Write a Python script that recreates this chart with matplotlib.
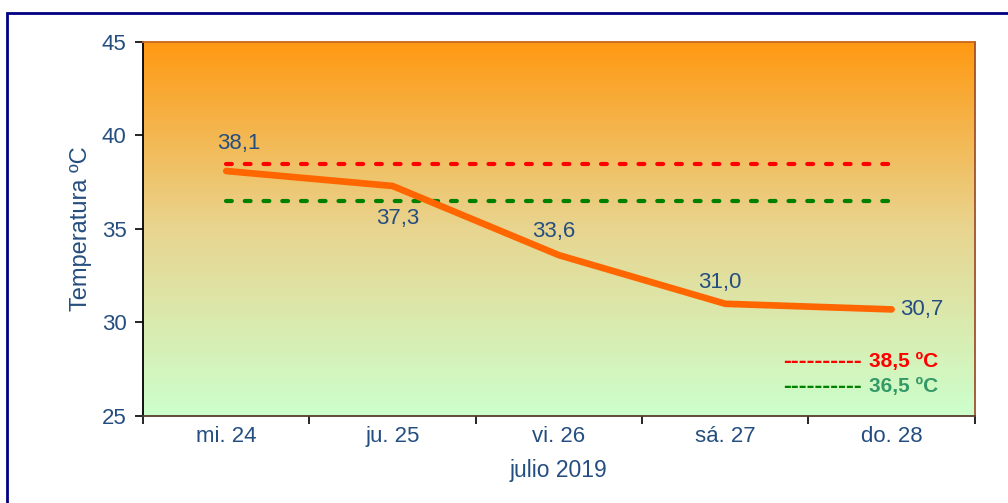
import numpy as np
import matplotlib.pyplot as plt
from matplotlib.colors import LinearSegmentedColormap
from matplotlib.patches import Rectangle

plt.rcParams['font.family'] = ['Liberation Sans', 'DejaVu Sans']

days = ['mi. 24', 'ju. 25', 'vi. 26', 'sá. 27', 'do. 28']
temps = [38.1, 37.3, 33.6, 31.0, 30.7]
umbral_rojo = 38.5
umbral_verde = 36.5
# label offsets in pixels relative to each point
label_off = [(13, 28), (5, -33), (-5, 24), (-5, 21), (9, 0)]

txt = '#254E80'
fs = 16
fig = plt.figure(figsize=(10.08, 5.03), dpi=100)
ax = fig.add_axes([0.142, 0.173, 0.825, 0.7435])

# outer frame (runs off the right and bottom edge)
fig.patches.append(Rectangle((7 / 1008, -0.05), 1.1, 1 - 13 / 503 + 0.05,
                             transform=fig.transFigure, fill=False,
                             edgecolor='#000080', lw=2, zorder=0))

x = np.arange(len(days)) + 0.5
ax.set_xlim(0, len(days))
ax.set_ylim(25, 45)

# background gradient orange -> light green
cmap = LinearSegmentedColormap.from_list('bg', ['#CCFFCC', '#E8D590', '#FF9912'])
grad = np.linspace(0, 1, 256).reshape(-1, 1)
ax.imshow(grad, cmap=cmap, aspect='auto', origin='lower',
          extent=[0, len(days), 25, 45], zorder=0)

for val, col in [(umbral_rojo, '#FF0000'), (umbral_verde, '#008000')]:
    ax.plot([x[0], x[-1]], [val] * 2, color=col, lw=3,
            dashes=(1.4, 3.1), dash_capstyle='round', zorder=2)
ax.plot(x, temps, color='#FF6600', lw=4.8, solid_capstyle='round',
        solid_joinstyle='round', zorder=3)

for xi, t, (dx, dy) in zip(x, temps, label_off):
    s = f'{t:.1f}'.replace('.', ',')
    ha = 'left' if dy == 0 else 'center'
    ax.annotate(s, (xi, t), xytext=(dx, dy), textcoords='offset pixels',
                ha=ha, va='center', color=txt, fontsize=fs)

# legend-like labels
for yy, dcol, tcol, s in [(0.147, '#FF0000', '#FF0000', '38,5 ºC'),
                          (0.0775, '#008000', '#339966', '36,5 ºC')]:
    ax.text(0.769, yy, '----------', transform=ax.transAxes, color=dcol,
            fontsize=17, fontweight='bold', ha='left', va='center')
    ax.text(0.873, yy, s, transform=ax.transAxes, color=tcol,
            fontsize=15, fontweight='bold', ha='left', va='center')

ax.set_xticks(np.arange(len(days) + 1))
ax.set_xticklabels([])
ax.set_xticks(x, minor=True)
ax.set_xticklabels(days, minor=True)
ax.tick_params(axis='x', which='minor', length=0, pad=7, labelsize=fs, labelcolor=txt)
ax.tick_params(axis='x', which='major', length=6, direction='out', width=1.2)
ax.set_yticks([25, 30, 35, 40, 45])
ax.tick_params(axis='y', length=6, width=1.2, labelsize=fs, labelcolor=txt, pad=6)

ax.set_xlabel('julio 2019', color=txt, fontsize=fs + 0.5, labelpad=9)
ax.set_ylabel('Temperatura ºC', color=txt, fontsize=fs + 1, labelpad=7)

ax.spines['left'].set_color('black')
ax.spines['bottom'].set_color('#5A3A2A')
ax.spines['right'].set_color('#A0522D')
ax.spines['top'].set_color('#C8661E')
for sp in ax.spines.values():
    sp.set_linewidth(1.3)

fig.savefig('out.png', dpi=100)
